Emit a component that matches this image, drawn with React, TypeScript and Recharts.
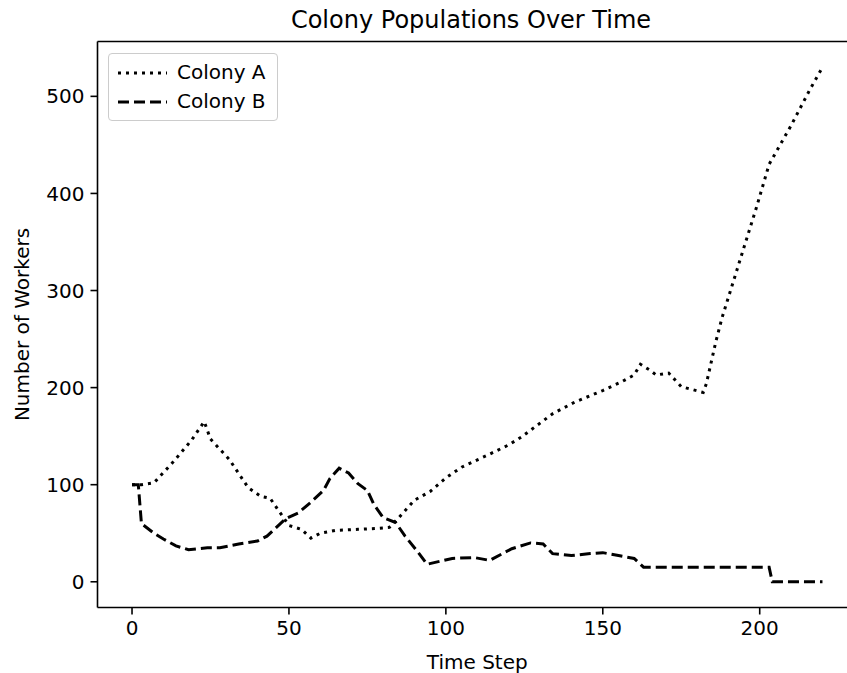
import React from 'react';
import { LineChart, Line, XAxis, YAxis, Legend, ReferenceLine } from 'recharts';

const FONT = '"DejaVu Sans", "Liberation Sans", sans-serif';

// Colony A (dotted)
const timeA = [
  0, 3, 7, 13, 19, 23, 25, 31, 37, 41, 44, 47, 50, 54, 57, 60, 65, 72, 78, 82,
  85, 90, 95, 100, 105, 113, 120, 124, 129, 134, 141, 150, 156, 160, 162, 165,
  167, 171, 175, 182, 183, 186, 188, 199, 203, 210, 216, 220,
];
const colonyA = [
  100, 100, 102, 123, 146, 165, 147, 126, 97, 88, 86, 72, 58, 54, 45, 50, 53, 54, 55, 56,
  66, 84, 93, 107, 118, 130, 141, 149, 161, 173, 185, 197, 206, 213, 224, 218,
  213, 215, 201, 195, 204, 247, 272, 386, 430, 470, 507, 530,
];

// Colony B (dashed)
const timeB = [
  0, 2, 3, 7, 10, 14, 18, 24, 28, 34, 40, 43, 46, 49, 53, 57, 61, 63, 66, 69,
  72, 75, 77, 80, 84, 87, 91, 94, 102, 109, 114, 118, 121, 127, 131, 134, 140,
  146, 150, 155, 160, 163, 203, 204, 220,
];
const colonyB = [
  100, 100, 60, 50, 44, 37, 33, 35, 35, 39, 42, 47, 56, 65, 71, 82, 94, 106, 117, 112,
  101, 94, 80, 66, 61, 47, 31, 18, 24, 25, 22, 29, 34, 40, 39, 29, 27,
  29, 30, 27, 24, 15, 15, 0, 0,
];

const seriesNames = ['Colony A', 'Colony B'];
const seriesDash = ['3 5', '11 5'];

const xTicks = [0, 50, 100, 150, 200];
const yTicks = [0, 100, 200, 300, 400, 500];
const xDomain = [-11, 231];
const yDomain = [-26.5, 556.5];

const dataA = timeA.map((t, i) => ({ t, workers: colonyA[i] }));
const dataB = timeB.map((t, i) => ({ t, workers: colonyB[i] }));

const tickStyle = { fontSize: 20, fill: '#000', fontFamily: FONT };
const axisStroke = { stroke: '#000', strokeWidth: 1.6 };

function LegendBox(props: any) {
  const payload = props.payload || [];
  return (
    <div
      style={{
        width: 168,
        height: 66,
        border: '1px solid #cccccc',
        borderRadius: 4,
        background: 'rgba(255,255,255,0.8)',
        fontFamily: FONT,
        fontSize: 20,
        color: '#000',
        position: 'relative',
      }}
    >
      {payload.map((entry: any, i: number) => {
        const idx = seriesNames.indexOf(entry.value);
        return (
          <div
            key={entry.value}
            style={{ position: 'absolute', left: 0, top: 4 + i * 29, height: 29, display: 'flex', alignItems: 'center' }}
          >
            <svg width={60} height={10} style={{ marginLeft: 8 }}>
              <line x1={1} y1={5} x2={50} y2={5} stroke="#000" strokeWidth={3} strokeDasharray={seriesDash[idx]} />
            </svg>
            <span style={{ marginLeft: 0, lineHeight: '29px' }}>{entry.value}</span>
          </div>
        );
      })}
    </div>
  );
}

function YTitle(props: any) {
  const vb = props.viewBox || {};
  const cy = vb.y + vb.height / 2;
  return (
    <text
      x={22}
      y={cy}
      transform={`rotate(-90, 22, ${cy})`}
      textAnchor="middle"
      dominantBaseline="central"
      fontSize={20}
      fontFamily={FONT}
      fill="#000"
    >
      Number of Workers
    </text>
  );
}

export default function App() {
  return (
    <div style={{ position: 'absolute', left: 0, top: 0, width: 847, height: 673, overflow: 'hidden', background: '#fff' }}>
      <div
        style={{
          position: 'absolute',
          left: 0,
          top: 5,
          width: 942,
          textAlign: 'center',
          fontFamily: FONT,
          fontSize: 24,
          lineHeight: '30px',
          color: '#000',
          zIndex: 2,
        }}
      >
        Colony Populations Over Time
      </div>
      <LineChart width={857} height={673} margin={{ top: 41.5, right: 0, bottom: 0, left: 0 }}>
        <XAxis
          dataKey="t"
          type="number"
          domain={xDomain}
          ticks={xTicks}
          allowDuplicatedCategory={false}
          height={65.5}
          tick={tickStyle}
          tickSize={7}
          tickMargin={6}
          axisLine={axisStroke}
          tickLine={axisStroke}
          label={{ value: 'Time Step', position: 'insideBottom', offset: 4, fontSize: 20, fill: '#000', fontFamily: FONT }}
        />
        <YAxis
          type="number"
          domain={yDomain}
          ticks={yTicks}
          width={97.5}
          tick={tickStyle}
          tickSize={7}
          tickMargin={6}
          axisLine={axisStroke}
          tickLine={axisStroke}
          label={<YTitle />}
        />
        <ReferenceLine y={yDomain[1]} stroke="#000" strokeWidth={1.6} />
        <Legend
          layout="horizontal"
          verticalAlign="middle"
          align="center"
          content={<LegendBox />}
          wrapperStyle={{ position: 'absolute', left: 108, top: 53, width: 'auto' }}
        />
        <Line
          data={dataA}
          dataKey="workers"
          name={seriesNames[0]}
          type="linear"
          stroke="#000"
          strokeWidth={3}
          strokeDasharray={seriesDash[0]}
          dot={false}
          activeDot={false}
          isAnimationActive={false}
        />
        <Line
          data={dataB}
          dataKey="workers"
          name={seriesNames[1]}
          type="linear"
          stroke="#000"
          strokeWidth={3}
          strokeDasharray={seriesDash[1]}
          dot={false}
          activeDot={false}
          isAnimationActive={false}
        />
      </LineChart>
    </div>
  );
}
